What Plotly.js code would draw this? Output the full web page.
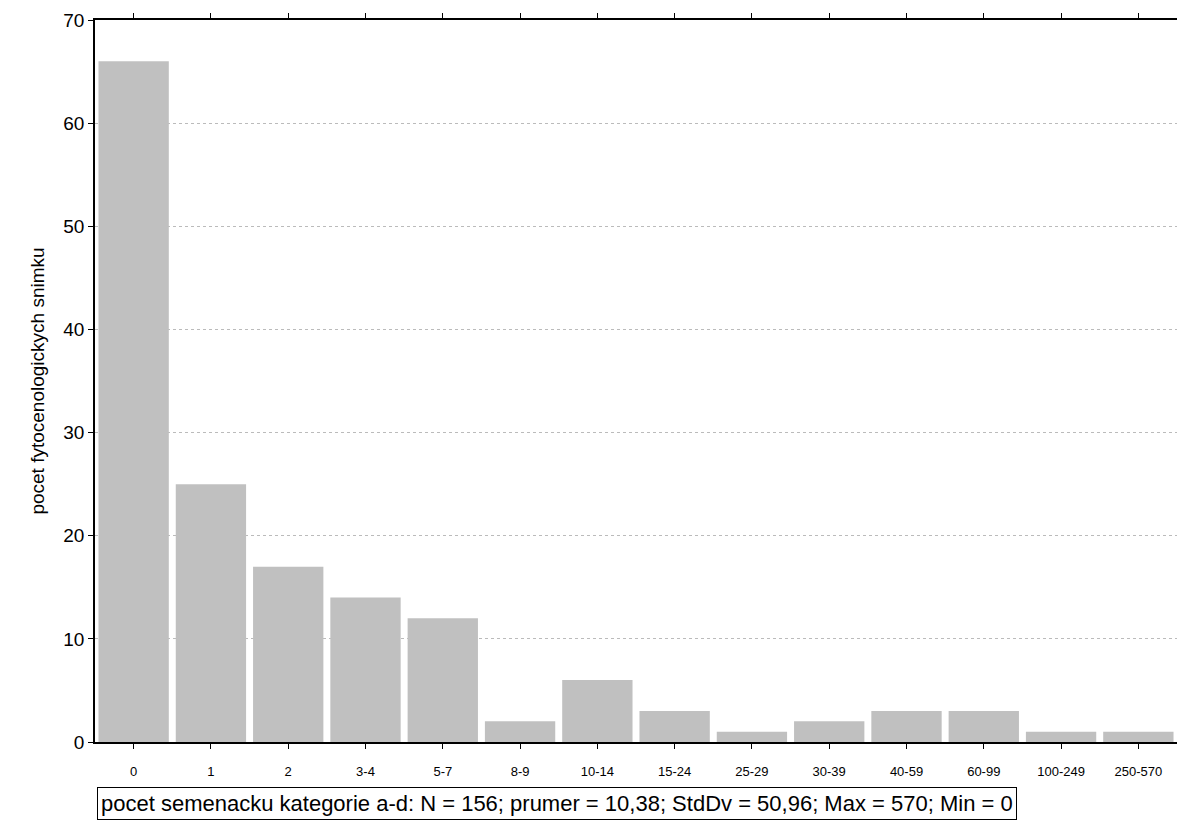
<!DOCTYPE html>
<html><head><meta charset="utf-8">
<script src="https://cdn.plot.ly/plotly-3.0.1.min.js"></script>
<style>body{margin:0;background:#fff}</style></head>
<body><div id="chart" style="width:1180px;height:838px"></div>
<script>
const categories = ['0','1','2','3-4','5-7','8-9','10-14','15-24','25-29','30-39','40-59','60-99','100-249','250-570'];
const counts = [66,25,17,14,12,2,6,3,1,2,3,3,1,1];
const statsText = 'pocet semenacku kategorie a-d: N = 156; prumer = 10,38; StdDv = 50,96; Max = 570; Min = 0';

const trace = {
  x: categories, y: counts, type: 'bar',
  marker: {color: '#c0c0c0'}
};

const layout = {
  width: 1180, height: 838,
  margin: {l: 95, r: 3, t: 20, b: 96},
  paper_bgcolor: '#fff', plot_bgcolor: '#fff',
  font: {family: 'Liberation Sans, Arial, sans-serif', color: '#000'},
  bargap: 0.09,
  showlegend: false,
  xaxis: {
    type: 'category', showline: true, linecolor: '#000', linewidth: 1.5,
    mirror: 'ticks', ticks: 'outside', ticklen: 5, tickcolor: '#000',
    tickfont: {size: 13}, showgrid: false, ticklabelstandoff: 12
  },
  yaxis: {
    range: [0, 70], dtick: 10, showline: true, linecolor: '#000', linewidth: 1.5,
    ticks: 'outside', ticklen: 5, tickcolor: '#000', tickfont: {size: 19},
    gridcolor: '#bbb', griddash: 'dot', zeroline: false,
    title: {text: 'pocet fytocenologickych snimku', font: {size: 19}, standoff: 14}
  },
  annotations: [{
    text: statsText, xref: 'paper', yref: 'paper', x: 0.002, y: -0.062,
    xanchor: 'left', yanchor: 'top', showarrow: false,
    font: {size: 22}, bordercolor: '#000', borderwidth: 1, borderpad: 3, bgcolor: '#fff'
  }]
};

Plotly.newPlot('chart', [trace], layout, {displayModeBar: false});
</script></body></html>
